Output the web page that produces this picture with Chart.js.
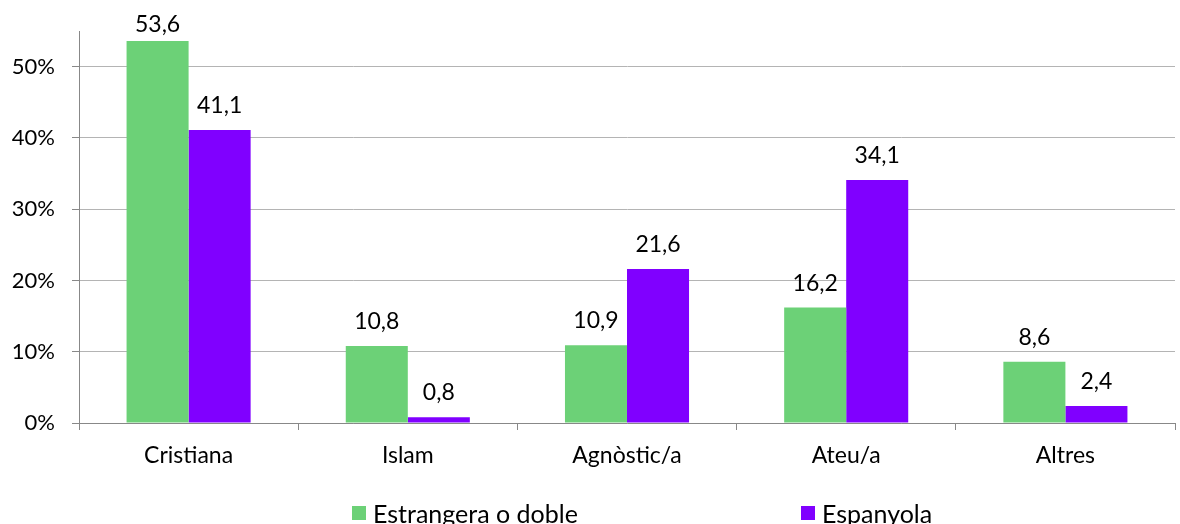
<!DOCTYPE html>
<html>
<head>
<meta charset="utf-8">
<script src="https://cdn.jsdelivr.net/npm/chart.js@4"></script>
<style>
  html, body { margin: 0; padding: 0; background: #fff; }
  #wrap { width: 1180px; height: 524px; position: relative; }
</style>
</head>
<body>
<div id="wrap"><canvas id="religioChart"></canvas></div>
<script>
const categories = ['Cristiana', 'Islam', 'Agnòstic/a', 'Ateu/a', 'Altres'];
const seriesNames = ['Estrangera o doble', 'Espanyola'];
const estrangera = [53.6, 10.8, 10.9, 16.2, 8.6];
const espanyola = [41.1, 0.8, 21.6, 34.1, 2.4];
const yTicks = [0, 10, 20, 30, 40, 50];
const colors = ['#6cd177', '#8000ff'];

const FONT = 'Lato, "Open Sans", sans-serif';

// value labels above each bar, comma decimal, kept inside the plot area
const valueLabels = {
    id: 'valueLabels',
    afterDatasetsDraw(chart) {
        const { ctx, chartArea } = chart;
        ctx.save();
        ctx.font = '23px ' + FONT;
        ctx.fillStyle = '#000';
        ctx.textAlign = 'center';
        ctx.textBaseline = 'alphabetic';
        chart.data.datasets.forEach((ds, i) => {
            chart.getDatasetMeta(i).data.forEach((bar, j) => {
                const txt = ds.data[j].toFixed(1).replace('.', ',');
                const y = Math.max(bar.y - 17, chartArea.top + 1);
                ctx.fillText(txt, bar.x, y);
            });
        });
        ctx.restore();
    }
};

// Excel-style legend spread along the bottom
const bottomLegend = {
    id: 'bottomLegend',
    afterDraw(chart) {
        const { ctx } = chart;
        const startX = [352, 801];
        ctx.save();
        ctx.font = '25px ' + FONT;
        ctx.textBaseline = 'alphabetic';
        ctx.textAlign = 'left';
        chart.data.datasets.forEach((ds, i) => {
            ctx.fillStyle = ds.backgroundColor;
            ctx.fillRect(startX[i], 506, 14, 14);
            ctx.fillStyle = '#000';
            ctx.fillText(ds.label, startX[i] + 21, 523);
        });
        ctx.restore();
    }
};

// eslint-disable-next-line no-undef
new Chart(document.getElementById('religioChart'), {
    type: 'bar',
    data: {
        labels: categories,
        datasets: [
            { label: seriesNames[0], data: estrangera, backgroundColor: colors[0] },
            { label: seriesNames[1], data: espanyola, backgroundColor: colors[1] }
        ]
    },
    options: {
        responsive: true,
        maintainAspectRatio: false,
        animation: false,
        layout: { padding: { top: 31, right: 5, left: 0, bottom: 0 } },
        datasets: {
            bar: { categoryPercentage: 0.566, barPercentage: 1.0, borderWidth: 0 }
        },
        plugins: {
            legend: { display: false },
            tooltip: { enabled: false }
        },
        scales: {
            x: {
                afterFit: s => { s.height = 101; },
                grid: {
                    drawOnChartArea: false,
                    drawTicks: true,
                    tickLength: 7,
                    color: '#888',
                    offset: true
                },
                border: { color: '#888', width: 1 },
                ticks: { color: '#000', font: { family: FONT, size: 23 }, padding: 12 }
            },
            y: {
                min: 0,
                max: 55,
                afterFit: s => { s.width = 79; },
                afterBuildTicks: s => {
                    s.ticks = yTicks.map(v => ({ value: v }));
                },
                grid: {
                    color: '#b4b4b4',
                    tickLength: 7,
                    tickColor: '#888'
                },
                border: { color: '#888', width: 1 },
                ticks: {
                    color: '#000',
                    font: { family: FONT, size: 22 },
                    padding: 17,
                    callback: v => v + '%'
                }
            }
        }
    },
    plugins: [valueLabels, bottomLegend]
});
</script>
</body>
</html>
